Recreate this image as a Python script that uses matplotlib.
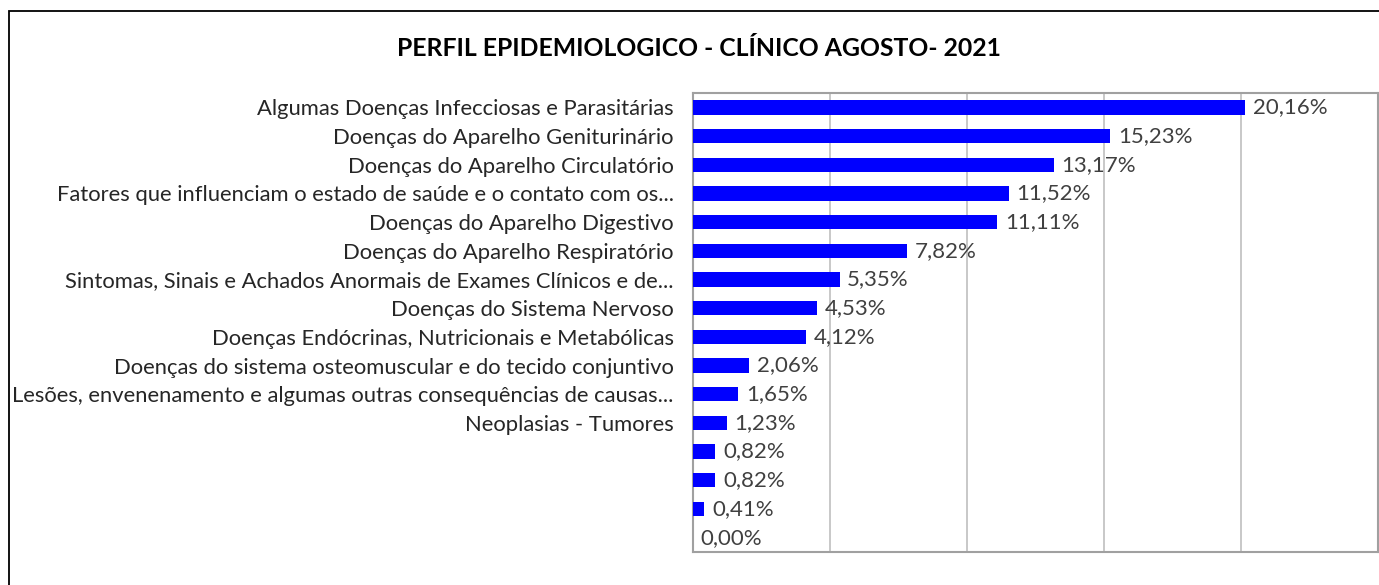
import matplotlib
matplotlib.use("Agg")
import matplotlib.pyplot as plt
from matplotlib.patches import Rectangle

# categorias de cima para baixo (as 4 últimas sem rótulo no original)
categorias = [
    "Algumas Doenças Infecciosas e Parasitárias",
    "Doenças do Aparelho Geniturinário",
    "Doenças do Aparelho Circulatório",
    "Fatores que influenciam o estado de saúde e o contato com os...",
    "Doenças do Aparelho Digestivo",
    "Doenças do Aparelho Respiratório",
    "Sintomas, Sinais e Achados Anormais de Exames Clínicos e de...",
    "Doenças do Sistema Nervoso",
    "Doenças Endócrinas, Nutricionais e Metabólicas",
    "Doenças do sistema osteomuscular e do tecido conjuntivo",
    "Lesões, envenenamento e algumas outras consequências de causas...",
    "Neoplasias - Tumores",
    "",
    "",
    "",
    "",
]
percentuais = [20.16, 15.23, 13.17, 11.52, 11.11, 7.82, 5.35, 4.53,
               4.12, 2.06, 1.65, 1.23, 0.82, 0.82, 0.41, 0.00]
titulo = "PERFIL EPIDEMIOLOGICO - CLÍNICO AGOSTO- 2021"

plt.rcParams["font.family"] = ["Lato", "DejaVu Sans"]

W, H = 1379, 585
fig = plt.figure(figsize=(W / 100, H / 100), dpi=100)
ax = fig.add_axes([693 / W, 1 - 552 / H, (1378 - 693) / W, (552 - 93) / H])

n = len(categorias)
ypos = list(range(n))
ax.barh(ypos, percentuais, height=0.5, color="#0000FF", zorder=3)
for y, v in zip(ypos, percentuais):
    ax.text(v + 0.28, y, f"{v:.2f}%".replace(".", ","), va="center", ha="left",
            fontsize=16, color="#404040", zorder=4)

ax.set_ylim(n - 0.5, -0.5)
ax.set_xlim(0, 25)
ax.set_yticks(ypos)
ax.set_yticklabels(categorias, fontsize=15.8, color="#262626")
ax.tick_params(axis="y", length=0, pad=14)
ax.set_xticks([0, 5, 10, 15, 20, 25])
ax.tick_params(axis="x", length=0, labelbottom=False)
ax.grid(axis="x", color="#BFBFBF", linewidth=1.2, zorder=0)
for s in ax.spines.values():
    s.set_color("#A0A0A0")
    s.set_linewidth(1.5)

fig.text(699 / W, 1 - 48 / H, titulo, ha="center", va="center",
         fontsize=17.8, fontweight="bold", color="#000000")

# moldura do gráfico
fig.patches.append(Rectangle((9 / W, -0.05), 1.1, 1 - 11 / H + 0.05,
                             transform=fig.transFigure, fill=False,
                             edgecolor="black", linewidth=1.3))

fig.savefig("out.png", dpi=100)
